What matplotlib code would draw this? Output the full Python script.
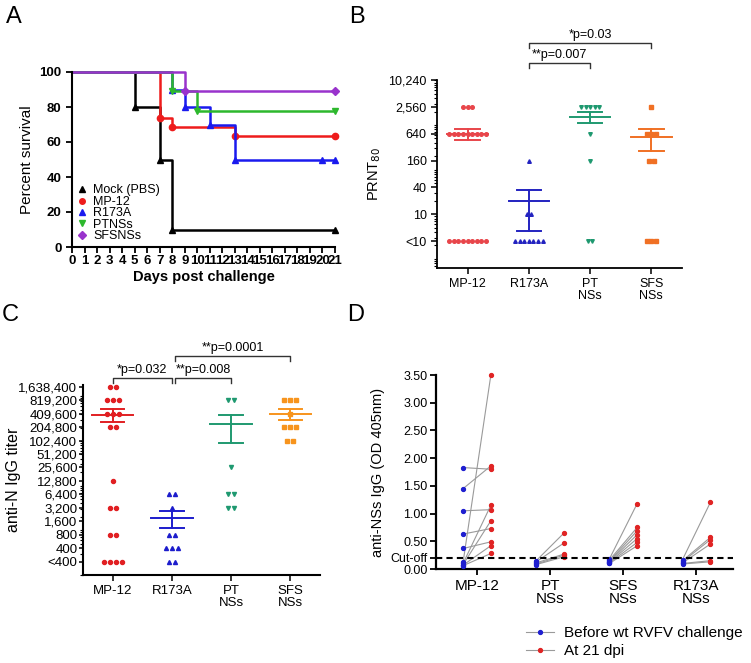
import matplotlib.pyplot as plt
import numpy as np
from matplotlib.lines import Line2D
from matplotlib.ticker import FixedLocator, LogLocator, NullFormatter

plt.rcParams['font.family'] = ['Liberation Sans', 'DejaVu Sans']

# ---------------- panel A : survival ----------------
days = list(range(22))
surv_labels = ['Mock (PBS)', 'MP-12', 'R173A', 'PTNSs', 'SFSNSs']
surv_colors = ['black', '#ee1c1c', '#1a1aee', '#2db82d', '#9933cc']
surv_markers = ['^', 'o', '^', 'v', 'D']
mock_t = [0, 5, 7, 8, 21]
mock_s = [100, 80, 50, 10, 10]
mp12_t = [0, 7, 8, 13, 21]
mp12_s = [100, 73.7, 68.4, 63.2, 63.2]
r173a_t = [0, 8, 9, 11, 13, 20, 21]
r173a_s = [100, 90, 80, 70, 50, 50, 50]
ptnss_t = [0, 8, 10, 21]
ptnss_s = [100, 88.9, 77.8, 77.8]
sfsnss_t = [0, 9, 21]
sfsnss_s = [100, 88.9, 88.9]

# ---------------- panel B : PRNT80 ----------------
groups_b = ['MP-12', 'R173A', 'PT\nNSs', 'SFS\nNSs']
LT10 = 2.5   # "<10" plotted one step below 10
prnt_mp12 = [2560, 2560, 2560, 640, 640, 640, 640, 640, 640, 640, 640, 640,
             LT10, LT10, LT10, LT10, LT10, LT10, LT10, LT10, LT10]
prnt_r173a = [160, 10, 10, LT10, LT10, LT10, LT10, LT10, LT10, LT10]
prnt_pt = [2560, 2560, 2560, 2560, 2560, 640, 160, LT10, LT10]
prnt_sfs = [2560, 640, 640, 640, 160, 160, LT10, LT10, LT10]
prnt_ticks = [LT10, 10, 40, 160, 640, 2560, 10240]
prnt_ticklabels = ['<10', '10', '40', '160', '640', '2,560', '10,240']
colors_b = ['#e8454a', '#2323c0', '#1f9970', '#f07024']
markers_b = ['o', '^', 'v', 's']

# ---------------- panel C : anti-N IgG ----------------
groups_c = ['MP-12', 'R173A', 'PT\nNSs', 'SFS\nNSs']
LT400 = 200
ign_mp12 = [1638400, 1638400, 819200, 819200, 819200, 409600, 409600, 409600,
            204800, 204800, 12800, 3200, 3200, 800, 800,
            LT400, LT400, LT400, LT400]
ign_r173a = [6400, 6400, 3200, 800, 800, 400, 400, 400, LT400, LT400]
ign_pt = [819200, 819200, 25600, 6400, 6400, 3200, 3200]
ign_sfs = [819200, 819200, 819200, 409600, 204800, 204800, 204800,
           102400, 102400]
ign_ticks = [LT400, 400, 800, 1600, 3200, 6400, 12800, 25600, 51200, 102400,
             204800, 409600, 819200, 1638400]
ign_ticklabels = ['<400', '400', '800', '1,600', '3,200', '6,400', '12,800',
                  '25,600', '51,200', '102,400', '204,800', '409,600',
                  '819,200', '1,638,400']
colors_c = ['#e11f22', '#1c1ccc', '#1f9970', '#f7941d']

# ---------------- panel D : anti-NSs IgG ----------------
groups_d = ['MP-12', 'PT\nNSs', 'SFS\nNSs', 'R173A\nNSs']
nss_before = [
    [1.83, 1.45, 1.05, 0.63, 0.37, 0.12, 0.10, 0.08, 0.07, 0.06],
    [0.15, 0.13, 0.11, 0.09, 0.08],
    [0.18, 0.16, 0.14, 0.13, 0.12, 0.11, 0.10],
    [0.17, 0.15, 0.13, 0.11, 0.10, 0.09],
]
nss_after = [
    [1.80, 1.86, 1.07, 0.73, 0.49, 3.50, 1.15, 0.87, 0.42, 0.28],
    [0.65, 0.47, 0.27, 0.25, 0.22],
    [1.18, 0.75, 0.69, 0.62, 0.55, 0.48, 0.42],
    [1.20, 0.57, 0.53, 0.45, 0.15, 0.13],
]
cutoff = 0.2

fig = plt.figure(figsize=(7.51, 6.63), dpi=100)


def style_axes(ax, lw=1.3):
    for s in ['top', 'right']:
        ax.spines[s].set_visible(False)
    for s in ['left', 'bottom']:
        ax.spines[s].set_linewidth(lw)


def bracket(ax, x0, x1, y, text, h=5):
    # y in figure pixels from top, x in data coords
    trans = ax.get_xaxis_transform()
    inv = ax.transAxes.inverted()
    _, ay = inv.transform(fig.transFigure.transform((0, 1 - y / 663.0)))
    _, ay2 = inv.transform(fig.transFigure.transform((0, 1 - (y + h) / 663.0)))
    ax.plot([x0, x0, x1, x1], [ay2, ay, ay, ay2], color='#333333', lw=1.0,
            transform=trans, clip_on=False)
    ax.text((x0 + x1) / 2, ay + 0.012, text, transform=trans, ha='center',
            va='bottom', fontsize=9)


def swarm(ax, xc, vals, dx, **kw):
    vals = np.array(vals, dtype=float)
    for v in np.unique(vals):
        n = np.sum(vals == v)
        xs = xc + (np.arange(n) - (n - 1) / 2) * dx
        ax.plot(xs, [v] * n, ls='none', clip_on=False, **kw)


def mean_sem(ax, xc, vals, color, w_mean=0.33, w_sem=0.2, lw=1.4):
    vals = np.array(vals, dtype=float)
    m = vals.mean()
    sem = vals.std(ddof=1) / np.sqrt(len(vals))
    ax.plot([xc - w_mean, xc + w_mean], [m, m], color=color, lw=lw)
    ax.plot([xc - w_sem, xc + w_sem], [m + sem, m + sem], color=color, lw=lw)
    ax.plot([xc - w_sem, xc + w_sem], [m - sem, m - sem], color=color, lw=lw)
    ax.plot([xc, xc], [m - sem, m + sem], color=color, lw=lw)


# ======== A ========
axA = fig.add_axes([72 / 751, 1 - 247 / 663, 263 / 751, 175 / 663])
style_axes(axA, 1.5)
series = [(mock_t, mock_s), (mp12_t, mp12_s), (r173a_t, r173a_s),
          (ptnss_t, ptnss_s), (sfsnss_t, sfsnss_s)]
handles = []
for (t, s), c, m, lab in zip(series, surv_colors, surv_markers, surv_labels):
    axA.plot(t, s, drawstyle='steps-post', color=c, lw=1.8, clip_on=False)
    ms = 4 if m == 'D' else 4.5
    axA.plot(t[1:], s[1:], ls='none', marker=m, color=c, ms=ms, clip_on=False)
    handles.append(Line2D([], [], ls='none', marker=m, color=c, ms=4, label=lab))
axA.set_xlim(0, 21)
axA.set_ylim(0, 100)
axA.set_xticks(days)
axA.set_yticks([0, 20, 40, 60, 80, 100])
axA.tick_params(labelsize=9.5, width=1.3, length=4)
for lab in axA.get_xticklabels() + axA.get_yticklabels():
    lab.set_fontweight('bold')
axA.tick_params(axis='x', pad=2)
axA.set_xlabel('Days post challenge', fontsize=10.5, fontweight='bold', labelpad=2)
axA.set_ylabel('Percent survival', fontsize=11)
axA.legend(handles=handles, loc='lower left', bbox_to_anchor=(0.0, 0.0),
           frameon=False, fontsize=9, handlelength=0.8, handletextpad=0.5,
           labelspacing=-0.05, borderpad=0.2, borderaxespad=0.2)

# ======== B ========
axB = fig.add_axes([437 / 751, 1 - 268 / 663, 245 / 751, 188 / 663])
style_axes(axB, 1.3)
axB.set_yscale('log')
axB.set_ylim(LT10 / 4, 10240)
axB.set_xlim(-0.5, 3.5)
for i, vals in enumerate([prnt_mp12, prnt_r173a, prnt_pt, prnt_sfs]):
    swarm(axB, i, vals, 0.075, marker=markers_b[i], color=colors_b[i], ms=2.6)
    mean_sem(axB, i, vals, colors_b[i])
axB.yaxis.set_major_locator(FixedLocator(prnt_ticks))
axB.set_yticklabels(prnt_ticklabels)
axB.yaxis.set_minor_locator(LogLocator(base=10, subs=np.arange(1, 10), numticks=50))
axB.yaxis.set_minor_formatter(NullFormatter())
axB.set_xticks(range(4))
axB.set_xticklabels(groups_b, linespacing=0.9)
axB.tick_params(labelsize=9, width=1.1, length=4)
axB.tick_params(axis='y', which='minor', length=2, width=0.8)
axB.set_ylabel('PRNT$_{80}$', fontsize=10.5)
bracket(axB, 1, 2, 63, '**p=0.007')
bracket(axB, 1, 3, 43, '*p=0.03')

# ======== C ========
axC = fig.add_axes([83 / 751, 1 - 575 / 663, 237 / 751, 190 / 663])
style_axes(axC, 1.5)
axC.set_yscale('log')
axC.set_ylim(LT400 / 2, 1.8e6)
axC.set_xlim(-0.5, 3.5)
for i, vals in enumerate([ign_mp12, ign_r173a, ign_pt, ign_sfs]):
    swarm(axC, i, vals, 0.1, marker=markers_b[i], color=colors_c[i], ms=2.9)
    mean_sem(axC, i, vals, colors_c[i], w_mean=0.35, w_sem=0.2)
axC.yaxis.set_major_locator(FixedLocator(ign_ticks))
axC.set_yticklabels(ign_ticklabels)
axC.yaxis.set_minor_locator(LogLocator(base=10, subs=np.arange(1, 10), numticks=50))
axC.yaxis.set_minor_formatter(NullFormatter())
axC.set_xticks(range(4))
axC.set_xticklabels(groups_c, linespacing=0.9)
axC.tick_params(axis='x', labelsize=9.5, width=1.1, length=4)
axC.tick_params(axis='y', labelsize=9.5, width=1.1, length=3, pad=1)
axC.tick_params(axis='y', which='minor', length=2, width=0.8)
axC.set_ylabel('anti-N IgG titer', fontsize=11.5)
axC.yaxis.set_label_coords(-0.26, 0.5)
bracket(axC, 0, 1, 378, '*p=0.032')
bracket(axC, 1.05, 2, 378, '**p=0.008')
bracket(axC, 1.05, 3, 356, '**p=0.0001')

# ======== D ========
axD = fig.add_axes([436 / 751, 1 - 569 / 663, 297 / 751, 194 / 663])
style_axes(axD, 1.6)
axD.set_xlim(-0.56, 3.5)
axD.set_ylim(0, 3.5)
for i in range(4):
    for b, a in zip(nss_before[i], nss_after[i]):
        axD.plot([i - 0.19, i + 0.19], [b, a], color='#9a9a9a', lw=0.8, zorder=2)
    axD.plot([i - 0.19] * len(nss_before[i]), nss_before[i], ls='none',
             marker='o', ms=2.8, color='#1f1fd0', zorder=3)
    axD.plot([i + 0.19] * len(nss_after[i]), nss_after[i], ls='none',
             marker='o', ms=2.8, color='#e02424', zorder=3, clip_on=False)
axD.axhline(cutoff, color='black', lw=1.5, ls=(0, (3, 2)), zorder=4)
axD.set_yticks([0, cutoff, 0.5, 1.0, 1.5, 2.0, 2.5, 3.0, 3.5])
axD.set_yticklabels(['0.00', 'Cut-off', '0.50', '1.00', '1.50', '2.00',
                     '2.50', '3.00', '3.50'])
axD.set_xticks(range(4))
axD.set_xticklabels(groups_d, linespacing=0.85)
axD.tick_params(axis='y', labelsize=9, width=1.3, length=4, pad=2)
axD.tick_params(axis='x', labelsize=11, width=1.3, length=4)
axD.set_ylabel('anti-NSs IgG (OD 405nm)', fontsize=10.5)
leg_handles = [
    Line2D([], [], color='#9a9a9a', lw=0.8, marker='o', ms=2.8,
           mfc='#1f1fd0', mec='#1f1fd0', label='Before wt RVFV challenge'),
    Line2D([], [], color='#9a9a9a', lw=0.8, marker='o', ms=2.8,
           mfc='#e02424', mec='#e02424', label='At 21 dpi'),
]
fig.legend(handles=leg_handles, loc='upper left',
           bbox_to_anchor=(517 / 751, 1 - 617 / 663), frameon=False,
           fontsize=11, handlelength=1.8, handletextpad=0.7,
           labelspacing=0.25, borderpad=0.1)

# panel letters
for lab, x, y in [('A', 6, 6), ('B', 349, 6), ('C', 2, 304), ('D', 347, 304)]:
    fig.text(x / 751, 1 - y / 663, lab, fontsize=17, va='top', ha='left')

fig.savefig('out.png', dpi=100)
